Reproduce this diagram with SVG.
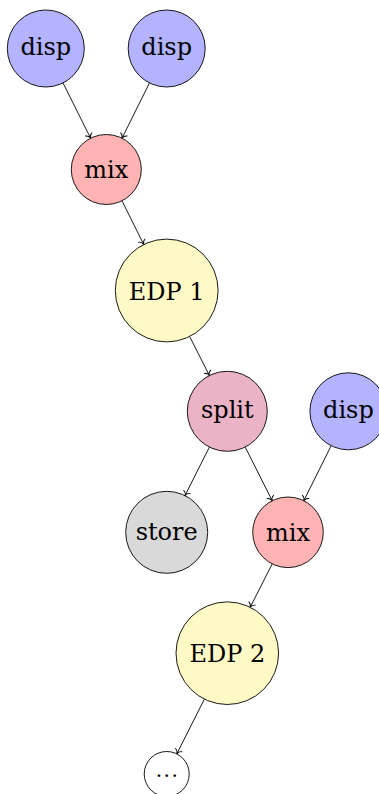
<svg xmlns="http://www.w3.org/2000/svg" width="379" height="794" viewBox="0 0 379 794">
  <style>
    .node circle { stroke: #000; stroke-width: 0.9; }
    .node text { font-family: 'DejaVu Serif', 'Liberation Serif', serif; font-size: 24px; text-anchor: middle; fill: #000; }
    .disp circle { fill: #b3b3ff; }
    .mix circle { fill: #ffb3b3; }
    .edp circle { fill: #fff9c6; }
    .split circle { fill: #ebb3c6; }
    .store circle { fill: #d9d9d9; }
    .more circle { fill: #fff; }
    #edges line { stroke: #000; stroke-width: 0.9; fill: none; marker-end: url(#tip); }
  </style>
  <defs>
    <marker id="tip" markerUnits="userSpaceOnUse" viewBox="-6 -5 7 10" markerWidth="7" markerHeight="10" refX="0" refY="0" orient="auto" overflow="visible">
      <path d="M-4.2,-3.6 C-3.6,-1.4 -1.2,-0.3 0,0 C-1.2,0.3 -3.6,1.4 -4.2,3.6" fill="none" stroke="#000" stroke-width="0.9" stroke-linecap="round"/>
    </marker>
  </defs>

  <rect width="379" height="794" fill="#fff"/>

  <g id="edges">
    <line x1="63.0" y1="82.9" x2="90.6" y2="138.2"/>
    <line x1="149.5" y1="82.9" x2="122.0" y2="138.2"/>
    <line x1="122.0" y1="200.8" x2="143.7" y2="244.4"/>
    <line x1="189.7" y1="336.6" x2="209.4" y2="375.5"/>
    <line x1="209.4" y1="447.1" x2="185.0" y2="495.6"/>
    <line x1="245.2" y1="447.1" x2="272.2" y2="500.7"/>
    <line x1="331.2" y1="445.7" x2="303.8" y2="500.7"/>
    <line x1="272.2" y1="563.9" x2="250.2" y2="607.3"/>
    <line x1="204.4" y1="699.1" x2="176.8" y2="753.9"/>
  </g>

  <g id="disp1" class="node disp">
    <circle cx="45.8" cy="48.5" r="38.5"/>
    <text x="45.8" y="55">disp</text>
  </g>
  <g id="disp2" class="node disp">
    <circle cx="166.7" cy="48.5" r="38.5"/>
    <text x="166.7" y="55">disp</text>
  </g>
  <g id="mix1" class="node mix">
    <circle cx="106.3" cy="169.5" r="35"/>
    <text x="106.3" y="178">mix</text>
  </g>
  <g id="edp1" class="node edp">
    <circle cx="166.7" cy="290.5" r="51.4"/>
    <text x="166.7" y="299.5">EDP 1</text>
  </g>
  <g id="split" class="node split">
    <circle cx="227.3" cy="411.3" r="40"/>
    <text x="227.3" y="417.8">split</text>
  </g>
  <g id="disp3" class="node disp">
    <circle cx="348.4" cy="411.3" r="38.5"/>
    <text x="348.4" y="417.8">disp</text>
  </g>
  <g id="store" class="node store">
    <circle cx="166.7" cy="532.3" r="41"/>
    <text x="166.7" y="540.3">store</text>
  </g>
  <g id="mix2" class="node mix">
    <circle cx="288" cy="532.3" r="35.3"/>
    <text x="288" y="540.8">mix</text>
  </g>
  <g id="edp2" class="node edp">
    <circle cx="227.3" cy="653.2" r="51.3"/>
    <text x="227.3" y="662.2">EDP 2</text>
  </g>
  <g id="more" class="node more">
    <circle cx="166.7" cy="774" r="22.5"/>
    <text x="167.5" y="777" letter-spacing="1.5" style="font-size:20px">...</text>
  </g>
</svg>
